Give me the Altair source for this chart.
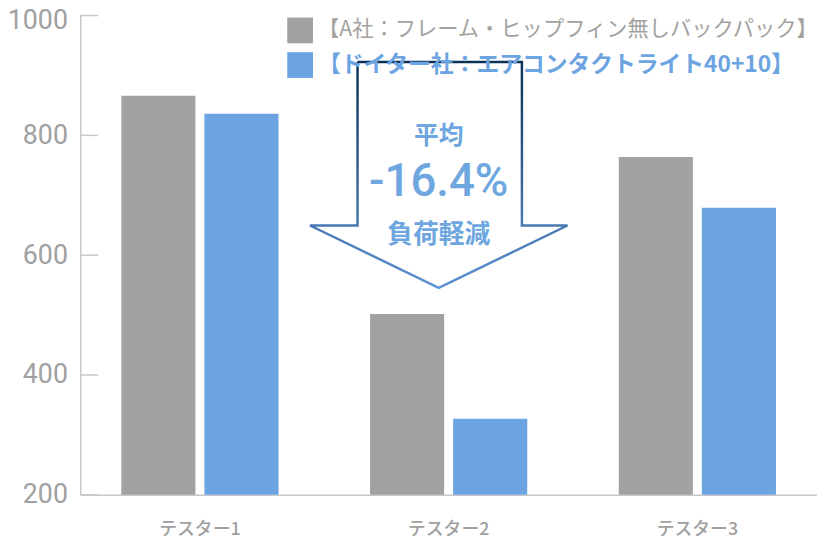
import altair as alt
import pandas as pd

# ---- data ----
testers = ["テスター1", "テスター2", "テスター3"]
series = ["【A社：フレーム・ヒップフィン無しバックパック】", "【ドイター社：エアコンタクトライト40+10】"]
values_a = [866, 502, 764]
values_b = [836, 327, 679]
colors = ["#a3a2a0", "#6ca4e2"]
y_ticks = [200, 400, 600, 800, 1000]
callout = ["平均", "-16.4%", "負荷軽減"]

# arrow outline (annotation, pixel space of plot area)
arrow_x = [280, 446, 446, 492, 362, 232, 280, 280]
arrow_y = [47, 47, 212, 212, 275, 212, 212, 47]

rows = []
for i, t in enumerate(testers):
    rows.append({"tester": t, "series": series[0], "value": values_a[i]})
    rows.append({"tester": t, "series": series[1], "value": values_b[i]})
df = pd.DataFrame(rows)
tick_df = pd.DataFrame({"v": y_ticks})
arrow_df = pd.DataFrame({"px": arrow_x, "py": arrow_y, "o": list(range(len(arrow_x)))})

color_scale = alt.Scale(domain=series, range=colors)
AX = "#c8c8c8"
TXT = "#a0a0a0"
BLUE = "#6ea6e0"

bars = alt.Chart(df).mark_bar(clip=True).encode(
    x=alt.X("tester:N", sort=testers, title=None,
            scale=alt.Scale(paddingInner=0.368, paddingOuter=0.165),
            axis=alt.Axis(labelAngle=0, labelFontSize=18, labelColor=TXT,
                          labelFont="Noto Sans CJK JP", labelFontWeight=500,
                          tickSize=0, labelPadding=26,
                          domainColor=AX, domainWidth=1.5)),
    xOffset=alt.XOffset("series:N", sort=series, scale=alt.Scale(paddingInner=0.108)),
    y=alt.Y("value:Q", title=None,
            scale=alt.Scale(domain=[200, 1000], zero=False, nice=False),
            axis=alt.Axis(values=y_ticks, format="d", labelFontSize=27, labelColor=TXT,
                          labelFont="Roboto", tickSize=0, labelPadding=13,
                          labelOffset={"condition": {"test": "datum.value == 1000", "value": 5}, "value": 0},
                          domainColor=AX, domainWidth=1.5, grid=False)),
    color=alt.Color("series:N", scale=color_scale, legend=None),
)

ticks = alt.Chart(tick_df).mark_rule(color=AX, strokeWidth=1.5).encode(
    y=alt.Y("v:Q", scale=alt.Scale(domain=[200, 1000], zero=False, nice=False), axis=None),
    x=alt.value(0), x2=alt.value(18),
)

arrow = alt.Chart(arrow_df).mark_line(
    strokeWidth=2.5, strokeJoin="miter",
    stroke=alt.Gradient(gradient="linear", x1=0, y1=0, x2=0, y2=1,
                        stops=[alt.GradientStop(color="#0b3256", offset=0),
                               alt.GradientStop(color="#5d92d4", offset=1)]),
).encode(
    x=alt.X("px:Q", scale=None, axis=None),
    y=alt.Y("py:Q", scale=None, axis=None),
    order="o:Q",
)

def txt(s, y, size, weight="normal", font="Noto Sans CJK JP"):
    return alt.Chart(pd.DataFrame({"t": [s]})).mark_text(
        fontSize=size, fontWeight=weight, color=BLUE, font=font,
        align="center", baseline="middle").encode(
        text="t:N", x=alt.value(362), y=alt.value(y))

t1 = txt(callout[0], 122, 25, "bold")
t2 = txt(callout[1], 168, 46, 500, "Roboto")
t3 = txt(callout[2], 222, 26, "bold")

leg_layers = []
for i, s in enumerate(series):
    d = pd.DataFrame({"series": [s]})
    yy = 15 + 35 * i
    sq = alt.Chart(d).mark_square(size=676, opacity=1).encode(
        x=alt.value(222), y=alt.value(yy),
        color=alt.Color("series:N", scale=color_scale, legend=None))
    lt = alt.Chart(d).mark_text(
        fontSize=21.5 if i == 0 else 23, font="Noto Sans CJK JP", align="left", baseline="middle",
        fontWeight="bold" if i == 1 else "normal").encode(
        text="series:N", x=alt.value(240), y=alt.value(yy),
        color=alt.Color("series:N", scale=color_scale, legend=None))
    leg_layers += [sq, lt]

chart = alt.layer(bars, ticks, arrow, t1, t2, t3, *leg_layers).resolve_scale(
    x="independent", y="independent"
).properties(
    width=744, height=484,
    autosize=alt.AutoSizeParams(type="none"),
    padding={"left": 73, "top": 5, "right": 0, "bottom": 45},
).configure_view(stroke=None)

chart.save("out.html", embed_options={"renderer": "svg", "actions": False})
